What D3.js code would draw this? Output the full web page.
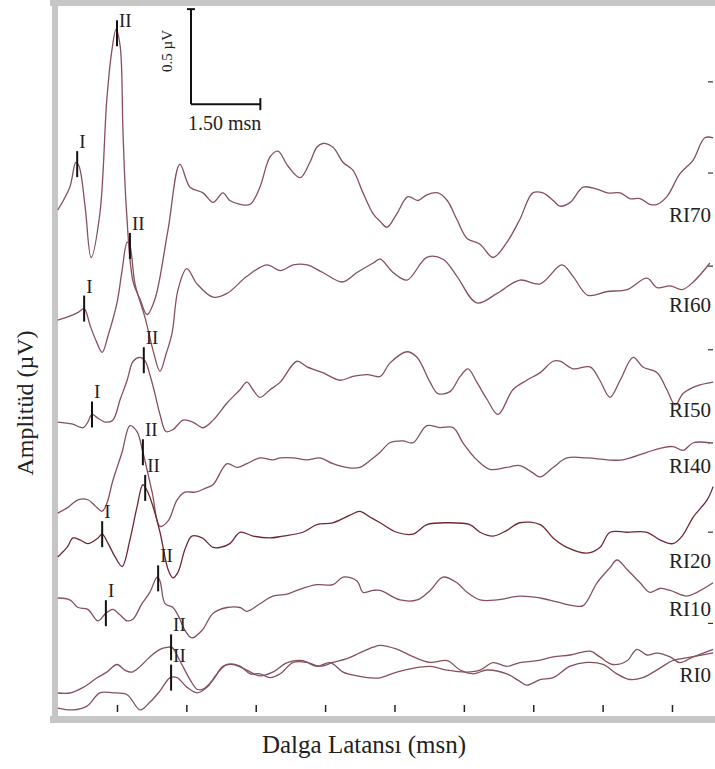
<!DOCTYPE html>
<html>
<head>
<meta charset="utf-8">
<script src="https://cdn.jsdelivr.net/npm/d3@7"></script>
<style>
  body { margin: 0; background: #fff; }
  svg { display: block; }
  text { font-family: "Liberation Serif", "Times New Roman", serif; fill: #222; }
</style>
</head>
<body>
<svg id="chart" width="715" height="769"></svg>
<script>
// waveforms: [latency ms, amplitude µV relative to trace baseline]
const ri70 = [[0.22,0],[0.48,0.12],[0.61,0.25],[0.68,0.23],[0.81,0.02],[0.94,-0.25],[1.13,-0.02],[1.28,0.58],[1.39,0.84],[1.48,0.95],[1.57,0.86],[1.63,0.41],[1.70,0.02],[1.85,-0.38],[2.00,-0.47],[2.15,-0.55],[2.32,-0.47],[2.60,-0.11],[2.86,0.24],[3.08,0.12],[3.36,0.09],[3.58,0.04],[3.79,0.09],[3.94,0.05],[4.16,0.03],[4.38,0.03],[4.59,0.12],[4.81,0.28],[4.98,0.31],[5.20,0.23],[5.46,0.17],[5.67,0.25],[5.82,0.33],[5.95,0.35],[6.17,0.33],[6.39,0.25],[6.60,0.21],[6.82,0.09],[7.04,-0.02],[7.19,-0.06],[7.34,-0.09],[7.55,-0.02],[7.79,0.07],[8.01,0.05],[8.20,0.08],[8.44,0.09],[8.64,0.05],[8.85,-0.05],[9.07,-0.15],[9.35,-0.18],[9.63,-0.25],[9.93,-0.17],[10.21,-0.05],[10.49,0.09],[10.71,0.09],[10.93,0.05],[11.08,0.02],[11.30,0.04],[11.58,0.12],[11.88,0.11],[12.10,0.09],[12.38,0.09],[12.59,0.06],[12.81,0.06],[13.02,0.03],[13.18,0.03],[13.39,0.07],[13.67,0.19],[13.95,0.26],[14.21,0.38],[14.39,0.38]];
const ri60 = [[0.22,0],[0.48,0.02],[0.66,0.04],[0.79,0.06],[0.92,-0.03],[1.05,-0.11],[1.18,-0.17],[1.31,-0.08],[1.50,0.09],[1.61,0.26],[1.72,0.41],[1.78,0.39],[1.89,0.19],[2.11,0.01],[2.28,-0.16],[2.43,-0.27],[2.56,-0.18],[2.69,-0.07],[2.82,0.16],[3.01,0.27],[3.23,0.19],[3.58,0.12],[3.88,0.14],[4.31,0.23],[4.74,0.29],[5.03,0.26],[5.31,0.29],[5.61,0.29],[5.95,0.25],[6.37,0.20],[6.69,0.25],[7.04,0.30],[7.19,0.32],[7.47,0.25],[7.77,0.21],[8.20,0.33],[8.55,0.32],[8.85,0.23],[9.28,0.09],[9.72,0.14],[10.21,0.21],[10.65,0.19],[11.12,0.29],[11.36,0.23],[11.68,0.13],[12.10,0.15],[12.53,0.16],[12.96,0.22],[13.18,0.17],[13.46,0.18],[13.72,0.16],[13.96,0.20],[14.32,0.30]];
const ri50 = [[0.22,0],[0.53,-0.01],[0.77,-0.03],[0.87,0],[0.96,0.04],[1.09,0.02],[1.24,0],[1.41,0.01],[1.57,0.12],[1.72,0.22],[1.85,0.32],[2.00,0.34],[2.11,0.32],[2.21,0.25],[2.32,0.15],[2.43,0.04],[2.56,-0.05],[2.71,-0.04],[2.93,0.01],[3.14,0],[3.36,-0.03],[3.58,0.01],[3.88,0.10],[4.16,0.17],[4.31,0.21],[4.44,0.17],[4.59,0.13],[4.81,0.17],[5.03,0.21],[5.39,0.32],[5.61,0.29],[5.95,0.26],[6.32,0.22],[6.60,0.24],[6.91,0.25],[7.19,0.24],[7.40,0.31],[7.77,0.37],[7.99,0.34],[8.27,0.21],[8.44,0.15],[8.70,0.16],[8.92,0.24],[9.09,0.28],[9.28,0.21],[9.50,0.12],[9.74,0.04],[10.06,0.17],[10.36,0.22],[10.65,0.26],[10.93,0.32],[11.08,0.32],[11.36,0.28],[11.73,0.29],[11.94,0.22],[12.16,0.13],[12.38,0.22],[12.66,0.34],[12.87,0.29],[13.18,0.26],[13.39,0.17],[13.57,0.09],[13.74,0.15],[14.04,0.19],[14.39,0.21]];
const ri40 = [[0.22,0],[0.44,0.03],[0.66,0.07],[0.87,0.07],[1.02,0.04],[1.18,0.01],[1.28,0.05],[1.41,0.17],[1.61,0.32],[1.78,0.46],[1.93,0.43],[2.06,0.32],[2.26,0.11],[2.43,-0.07],[2.61,-0.04],[2.80,0.07],[2.97,0.11],[3.19,0.11],[3.41,0.13],[3.58,0.15],[3.88,0.26],[4.10,0.24],[4.31,0.26],[4.59,0.29],[4.87,0.28],[5.03,0.29],[5.31,0.29],[5.61,0.28],[5.89,0.29],[6.17,0.26],[6.47,0.24],[6.75,0.24],[7.04,0.29],[7.19,0.32],[7.40,0.37],[7.68,0.38],[7.90,0.37],[8.20,0.46],[8.48,0.45],[8.77,0.45],[8.98,0.37],[9.28,0.28],[9.56,0.23],[9.93,0.24],[10.21,0.25],[10.50,0.21],[10.65,0.19],[10.93,0.24],[11.23,0.29],[11.66,0.29],[12.10,0.28],[12.44,0.28],[12.96,0.32],[13.24,0.34],[13.52,0.35],[13.74,0.33],[13.96,0.37],[14.32,0.37]];
const ri20 = [[0.22,0],[0.42,0.05],[0.55,0.10],[0.70,0.09],[0.87,0.07],[1.09,0.10],[1.18,0.12],[1.31,0.07],[1.46,0],[1.61,-0.05],[1.78,0.09],[1.93,0.26],[2.06,0.38],[2.15,0.35],[2.26,0.28],[2.43,0.13],[2.61,-0.07],[2.71,-0.11],[2.82,-0.08],[2.97,0.04],[3.12,0.11],[3.34,0.10],[3.58,0.05],[3.73,0.05],[3.94,0.07],[4.16,0.13],[4.44,0.11],[4.81,0.10],[5.09,0.11],[5.52,0.13],[5.82,0.17],[6.17,0.18],[6.54,0.22],[6.75,0.24],[6.97,0.21],[7.19,0.18],[7.55,0.13],[7.90,0.12],[8.20,0.17],[8.64,0.18],[9.13,0.17],[9.35,0.13],[9.63,0.11],[9.93,0.14],[10.21,0.18],[10.65,0.17],[10.93,0.10],[11.23,0.05],[11.66,0.02],[11.94,0.05],[12.16,0.13],[12.53,0.13],[12.96,0.13],[13.24,0.09],[13.52,0.07],[13.72,0.11],[13.96,0.21],[14.26,0.30],[14.39,0.37]];
const ri10 = [[0.22,0],[0.48,-0.01],[0.66,-0.05],[0.87,-0.06],[1.09,-0.12],[1.26,-0.08],[1.41,-0.06],[1.57,-0.09],[1.72,-0.12],[1.85,-0.11],[2.04,-0.03],[2.21,0.03],[2.37,0.11],[2.43,0.09],[2.54,-0.03],[2.71,-0.05],[2.82,-0.09],[2.97,-0.17],[3.12,-0.21],[3.34,-0.17],[3.58,-0.08],[3.88,-0.05],[4.16,-0.05],[4.31,-0.07],[4.59,-0.03],[4.87,0.01],[5.18,0.02],[5.39,0.04],[5.82,0.07],[6.17,0.07],[6.39,0.11],[6.69,0.09],[6.82,0.03],[7.04,0.04],[7.19,0.04],[7.62,-0.01],[7.99,-0.01],[8.27,0.04],[8.55,0.11],[8.85,0.08],[9.07,0.03],[9.35,-0.01],[9.72,-0.01],[10.21,0.01],[10.65,0],[11.01,-0.02],[11.36,-0.04],[11.58,-0.04],[11.88,0.08],[12.16,0.16],[12.31,0.20],[12.53,0.15],[12.81,0.08],[13.02,0.03],[13.24,0.05],[13.46,0.04],[13.82,0.01],[14.04,0.03],[14.39,0.08]];
const ri0a = [[0.22,0],[0.48,0],[0.77,0.03],[1.07,0.08],[1.28,0.11],[1.50,0.15],[1.67,0.12],[1.82,0.11],[2.00,0.14],[2.21,0.19],[2.43,0.23],[2.58,0.24],[2.69,0.24],[2.86,0.17],[3.08,0.07],[3.23,0.02],[3.36,0.02],[3.58,0.07],[3.79,0.14],[4.01,0.15],[4.31,0.12],[4.59,0.09],[4.87,0.11],[5.18,0.16],[5.52,0.17],[5.82,0.14],[6.11,0.16],[6.39,0.11],[6.69,0.09],[6.97,0.08],[7.19,0.08],[7.55,0.11],[7.90,0.13],[8.27,0.14],[8.64,0.12],[9.07,0.11],[9.35,0.12],[9.63,0.16],[9.93,0.14],[10.21,0.16],[10.58,0.17],[10.93,0.19],[11.30,0.20],[11.73,0.22],[11.94,0.19],[12.22,0.15],[12.53,0.17],[12.74,0.23],[12.96,0.20],[13.18,0.21],[13.46,0.19],[13.67,0.16],[13.96,0.19],[14.39,0.23]];
const ri0b = [[0.22,0],[0.55,-0.01],[0.85,0.01],[1.13,0.08],[1.41,0.08],[1.72,0.07],[2.00,-0.01],[2.21,0.03],[2.43,0.09],[2.65,0.16],[2.80,0.16],[3.01,0.11],[3.23,0.08],[3.45,0.11],[3.66,0.18],[3.88,0.23],[4.16,0.22],[4.38,0.18],[4.59,0.18],[4.81,0.16],[5.03,0.18],[5.31,0.24],[5.61,0.24],[5.89,0.22],[6.17,0.24],[6.47,0.26],[6.75,0.29],[7.04,0.32],[7.19,0.33],[7.55,0.31],[7.90,0.27],[8.27,0.24],[8.64,0.25],[8.92,0.20],[9.20,0.18],[9.50,0.20],[9.93,0.18],[10.21,0.14],[10.36,0.12],[10.65,0.15],[10.93,0.16],[11.30,0.22],[11.66,0.24],[12.01,0.23],[12.31,0.18],[12.59,0.15],[12.87,0.16],[13.24,0.21],[13.52,0.25],[13.96,0.27],[14.39,0.29]];

const traces = [ri70, ri60, ri50, ri40, ri20, ri10, ri0a, ri0b];
const traceLabels = ['RI70', 'RI60', 'RI50', 'RI40', 'RI20', 'RI10', 'RI0', ''];
const traceOffsets = [2.663, 2.084, 1.547, 1.068, 0.837, 0.621, 0.121, 0.042];

// wave markers
const waveTrace = [0, 0, 1, 1, 2, 2, 3, 4, 4, 5, 5, 6, 7];
const waveName = ['I', 'II', 'I', 'II', 'I', 'II', 'II', 'I', 'II', 'I', 'II', 'II', 'II'];
const waveLatency = [0.64, 1.50, 0.79, 1.78, 0.96, 2.08, 2.06, 1.18, 2.11, 1.26, 2.39, 2.67, 2.67];

const latencyTicks = [1.5, 3, 4.5, 6, 7.5, 9, 10.5, 12, 13.5];
const ampTicks = [0.49, 0.97, 1.44, 1.93, 2.37, 2.86, 3.34];
const scaleBarTime = 1.5, scaleBarAmp = 0.5;

const svg = d3.select('#chart');
const x = d3.scaleLinear().domain([0, 14.4]).range([47.6, 713.6]);
const y = d3.scaleLinear().domain([0, 3.726]).range([716, 8]);

// frame
const frame = '#c6c6c6';
svg.append('rect').attr('x', 50).attr('y', 0).attr('width', 665).attr('height', 6).attr('fill', frame);
svg.append('rect').attr('x', 52).attr('y', 0).attr('width', 6).attr('height', 723).attr('fill', frame);
svg.append('rect').attr('x', 50).attr('y', 716).attr('width', 665).attr('height', 7).attr('fill', frame);

const bottom = svg.append('g').attr('transform', 'translate(0,712)')
  .call(d3.axisTop(x).tickValues(latencyTicks).tickSize(7).tickFormat(''));
bottom.select('.domain').remove();
bottom.selectAll('line').attr('stroke', '#222').attr('stroke-width', 1.5);

const right = svg.append('g').attr('transform', 'translate(713,0)')
  .call(d3.axisLeft(y).tickValues(ampTicks).tickSize(5).tickFormat(''));
right.select('.domain').remove();
right.selectAll('line').attr('stroke', '#333').attr('stroke-width', 1.2);

function valueAt(pts, t) {
  const i = Math.max(1, Math.min(pts.length - 1, d3.bisector(d => d[0]).left(pts, t)));
  const a = pts[i - 1], b = pts[i];
  const k = (t - a[0]) / (b[0] - a[0]);
  return a[1] + k * (b[1] - a[1]);
}

const line = d3.line().curve(d3.curveCatmullRom.alpha(0.5));

traces.forEach((pts, i) => {
  svg.append('path')
    .attr('d', line(pts.map(d => [x(d[0]), y(traceOffsets[i] + d[1])])))
    .attr('fill', 'none')
    .attr('stroke', i === 4 ? '#6e2833' : '#85505c')
    .attr('stroke-width', 1.3);
});

// peak markers
waveLatency.forEach((t, j) => {
  const ti = waveTrace[j];
  const px = x(t);
  const py = y(traceOffsets[ti] + valueAt(traces[ti], t));
  svg.append('line')
    .attr('x1', px).attr('x2', px).attr('y1', py - 13).attr('y2', py + 13)
    .attr('stroke', '#111').attr('stroke-width', 2);
  svg.append('text')
    .attr('x', px + 2).attr('y', Math.max(27, py - 16))
    .attr('font-size', 19)
    .text(waveName[j]);
});

// trace labels
traces.forEach((pts, i) => {
  if (!traceLabels[i]) return;
  svg.append('text')
    .attr('x', 711)
    .attr('y', y(traceOffsets[i] + valueAt(pts, 13.4)) + 26)
    .attr('text-anchor', 'end')
    .attr('font-size', 21)
    .text(traceLabels[i]);
});

// scale bar
const sx = x(3.1), sy = y(3.22);
const bar = svg.append('g').attr('stroke', '#111').attr('stroke-width', 2);
bar.append('line').attr('x1', sx).attr('x2', sx).attr('y1', sy).attr('y2', y(3.22 + scaleBarAmp));
bar.append('line').attr('x1', sx - 4).attr('x2', sx + 4).attr('y1', y(3.22 + scaleBarAmp)).attr('y2', y(3.22 + scaleBarAmp));
bar.append('line').attr('x1', sx).attr('x2', x(3.1 + scaleBarTime)).attr('y1', sy).attr('y2', sy);
bar.append('line').attr('x1', x(3.1 + scaleBarTime)).attr('x2', x(3.1 + scaleBarTime)).attr('y1', sy - 6).attr('y2', sy + 6);
svg.append('text')
  .attr('transform', `translate(${sx - 19},51) rotate(-90)`)
  .attr('text-anchor', 'middle').attr('font-size', 15)
  .text(scaleBarAmp + ' µV');
svg.append('text')
  .attr('x', sx - 3).attr('y', 130).attr('font-size', 20)
  .text(scaleBarTime.toFixed(2) + ' msn');

// axis titles
svg.append('text')
  .attr('transform', 'translate(33,403) rotate(-90)')
  .attr('text-anchor', 'middle').attr('font-size', 24)
  .text('Amplitüd (µV)');
svg.append('text')
  .attr('x', 364).attr('y', 753)
  .attr('text-anchor', 'middle').attr('font-size', 25)
  .text('Dalga Latansı (msn)');
</script>
</body>
</html>
